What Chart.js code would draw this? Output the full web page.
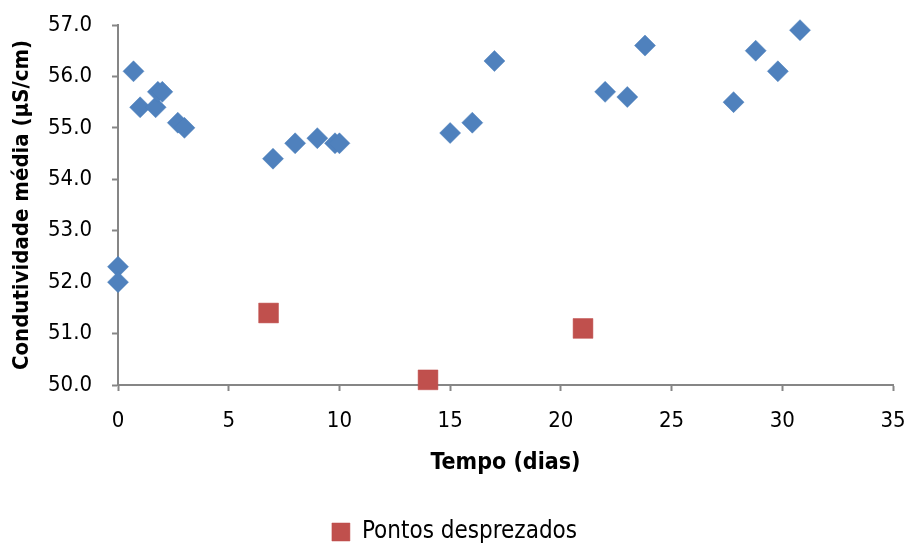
<!DOCTYPE html>
<html>
<head>
<meta charset="utf-8">
<script src="https://cdn.jsdelivr.net/npm/chart.js@4"></script>
<style>
    body { margin: 0; background: #fff; }
    #wrap { width: 909px; height: 545px; }
</style>
</head>
<body>
<div id="wrap"><canvas id="grafico" width="909" height="545"></canvas></div>
<script>
// dados
var tempo = [0, 0, 0.7, 1, 1.7, 1.8, 2, 2.7, 3, 7, 8, 9, 9.8, 10, 15, 16, 17, 22, 23, 23.8, 27.8, 28.8, 29.8, 30.8];
var condutividade = [52.3, 52.0, 56.1, 55.4, 55.4, 55.7, 55.7, 55.1, 55.0, 54.4, 54.7, 54.8, 54.7, 54.7, 54.9, 55.1, 56.3, 55.7, 55.6, 56.6, 55.5, 56.5, 56.1, 56.9];

var tempoDesprezados = [6.8, 14, 21];
var condDesprezados = [51.4, 50.1, 51.1];

var yTicks = [50, 51, 52, 53, 54, 55, 56, 57];
var xTicks = [0, 5, 10, 15, 20, 25, 30, 35];

function pontos(xs, ys) {
    var arr = [];
    for (var i = 0; i < xs.length; i++) {
        arr.push({ x: xs[i], y: ys[i] });
    }
    return arr;
}

var fonte = "'DejaVu Sans Condensed', 'DejaVu Sans', sans-serif";
var cinza = '#868686';

new Chart(document.getElementById('grafico'), {
    type: 'scatter',
    data: {
        datasets: [
            {
                label: 'Condutividade',
                data: pontos(tempo, condutividade),
                pointStyle: 'rectRot',
                pointRadius: 10.5,
                pointHoverRadius: 10.5,
                backgroundColor: '#4F81BD',
                borderColor: '#4A7EBB',
                borderWidth: 0.5,
                clip: false
            },
            {
                label: 'Pontos desprezados',
                data: pontos(tempoDesprezados, condDesprezados),
                pointStyle: 'rect',
                pointRadius: 14,
                pointHoverRadius: 14,
                backgroundColor: '#C0504D',
                borderColor: '#BE4B48',
                borderWidth: 0.5,
                clip: false
            }
        ]
    },
    options: {
        responsive: false,
        animation: false,
        // fundo negativo: empurra a legenda para baixo como no original
        layout: { padding: { top: 25, right: 0, left: 0, bottom: -9 } },
        plugins: {
            tooltip: { enabled: false },
            legend: {
                position: 'bottom',
                labels: {
                    filter: function (item) { return item.datasetIndex === 1; },
                    boxWidth: 18,
                    boxHeight: 18,
                    padding: 2,
                    color: '#000',
                    font: { family: fonte, size: 24 }
                }
            }
        },
        scales: {
            x: {
                type: 'linear',
                min: 0,
                max: 35,
                afterBuildTicks: function (axis) {
                    axis.ticks = xTicks.map(function (v) { return { value: v }; });
                },
                afterFit: function (axis) {
                    axis.height = 133;
                    axis.paddingLeft = 0;
                    axis.paddingRight = 16;
                },
                border: { color: cinza, width: 2 },
                grid: { drawOnChartArea: false, drawTicks: true, tickLength: 6, color: cinza, tickWidth: 2 },
                ticks: {
                    color: '#000',
                    padding: 17,
                    maxRotation: 0,
                    font: { family: fonte, size: 22 }
                },
                title: {
                    display: true,
                    text: 'Tempo (dias)',
                    color: '#000',
                    padding: { top: 0, bottom: 41 },
                    font: { family: fonte, size: 23, weight: 'bold' }
                }
            },
            y: {
                min: 50,
                max: 57,
                afterBuildTicks: function (axis) {
                    axis.ticks = yTicks.map(function (v) { return { value: v }; });
                },
                afterFit: function (axis) {
                    axis.width = 118;
                    axis.paddingTop = 0;
                    axis.paddingBottom = 0;
                },
                border: { color: cinza, width: 2 },
                grid: { drawOnChartArea: false, drawTicks: true, tickLength: 6, color: cinza, tickWidth: 2 },
                ticks: {
                    color: '#000',
                    padding: 20,
                    font: { family: fonte, size: 22 },
                    callback: function (v) { return Number(v).toFixed(1); }
                },
                title: {
                    display: true,
                    text: 'Condutividade média (µS/cm)',
                    color: '#000',
                    padding: { top: 9, bottom: 8 },
                    font: { family: fonte, size: 22, weight: 'bold' }
                }
            }
        }
    }
});
</script>
</body>
</html>
